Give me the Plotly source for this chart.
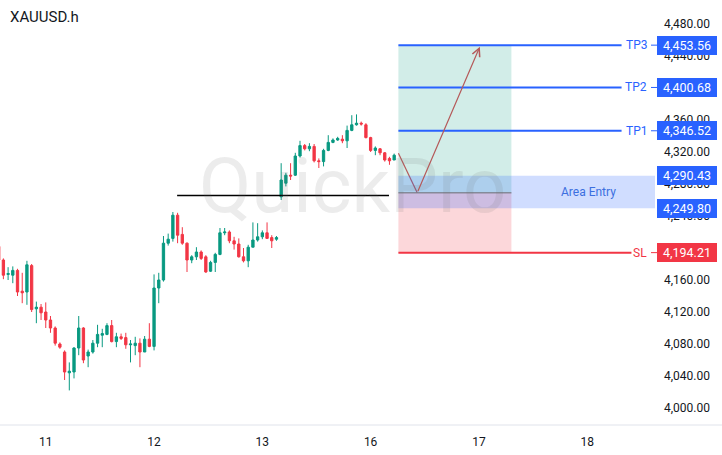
import plotly.graph_objects as go

# ---------------- data ----------------
title_text = "XAUUSD.h"
watermark_text = "QuickPro"

opens = [4202, 4185, 4167, 4166, 4172, 4146, 4145, 4178, 4124, 4126,
         4120, 4110, 4100, 4080, 4070, 4044, 4045, 4075, 4100, 4065,
         4070, 4081, 4091, 4092, 4103, 4083, 4089, 4088, 4079, 4078,
         4081, 4070, 4086, 4077, 4150, 4160, 4206, 4212, 4241, 4217,
         4206, 4185, 4189, 4195, 4189, 4171, 4182, 4192, 4219, 4220,
         4209, 4205, 4189, 4184, 4201, 4210, 4214, 4219, 4213, 4211,
         4264, 4281, 4291, 4291, 4315, 4328, 4324, 4327, 4309, 4308,
         4322, 4332, 4335, 4336, 4334, 4347, 4354, 4356, 4354, 4338,
         4322, 4324, 4319, 4312, 4310]
highs = [4206, 4187, 4176, 4177, 4174, 4169, 4184, 4180, 4133, 4130,
         4132, 4115, 4102, 4082, 4072, 4057, 4076, 4115, 4101, 4073,
         4085, 4104, 4099, 4106, 4110, 4094, 4093, 4094, 4085, 4089,
         4087, 4090, 4106, 4167, 4169, 4215, 4218, 4245, 4244, 4226,
         4207, 4191, 4201, 4197, 4191, 4184, 4194, 4225, 4225, 4222,
         4214, 4212, 4200, 4204, 4232, 4231, 4222, 4232, 4216, 4215,
         4306, 4294, 4306, 4319, 4334, 4330, 4331, 4330, 4312, 4324,
         4341, 4337, 4339, 4341, 4353, 4366, 4367, 4358, 4356, 4339,
         4327, 4325, 4320, 4314, 4318]
lows = [4183, 4161, 4160, 4156, 4140, 4131, 4129, 4120, 4106, 4110,
        4100, 4094, 4078, 4074, 4035, 4022, 4037, 4066, 4056, 4051,
        4068, 4076, 4076, 4091, 4082, 4076, 4085, 4074, 4057, 4066,
        4051, 4070, 4076, 4072, 4131, 4158, 4203, 4208, 4206, 4204,
        4170, 4181, 4185, 4185, 4169, 4170, 4170, 4191, 4216, 4206,
        4198, 4188, 4182, 4176, 4201, 4208, 4211, 4212, 4200, 4209,
        4260, 4277, 4285, 4290, 4313, 4322, 4321, 4307, 4300, 4302,
        4321, 4331, 4334, 4331, 4325, 4346, 4353, 4353, 4337, 4320,
        4316, 4316, 4308, 4304, 4310]
closes = [4185, 4166, 4168, 4172, 4145, 4144, 4179, 4123, 4126, 4119,
          4110, 4100, 4081, 4076, 4045, 4046, 4075, 4100, 4060, 4070,
          4081, 4092, 4093, 4103, 4083, 4089, 4087, 4079, 4080, 4081,
          4070, 4086, 4077, 4150, 4160, 4206, 4211, 4241, 4216, 4206,
          4185, 4189, 4195, 4187, 4170, 4182, 4192, 4219, 4220, 4209,
          4205, 4189, 4184, 4201, 4210, 4214, 4219, 4212, 4209, 4213,
          4285, 4291, 4290, 4315, 4328, 4324, 4327, 4309, 4308, 4322,
          4332, 4335, 4337, 4334, 4347, 4354, 4356, 4355, 4338, 4322,
          4325, 4319, 4310, 4309, 4316]

day_ticks = [10, 33, 56, 79, 102, 125]
day_labels = ["11", "12", "13", "16", "17", "18"]

tp_names = ["TP1", "TP2", "TP3"]
tp_levels = [4346.52, 4400.68, 4453.56]
entry_high = 4290.43
entry_low = 4249.80
entry_price = 4269.0
sl_level = 4194.21
support_level = 4265.6
support_span = [37.9, 82.9]

path_x = [84.9, 88.9, 102.2]
path_y = [4318.4, 4269.0, 4451.6]

# axis ticks (4,400 is fully covered by the TP2 label in the reference)
y_ticks = [4000 + 40 * k for k in range(13) if k != 10]

# ---------------- style ----------------
UP = "#089981"
DOWN = "#F23645"
BLUE = "#2962FF"
TXT = "#131722"
FONT = "Roboto"

W, H = 722, 455
ML, MR, MT, MB = 0, 67, 0, 30
PW = W - ML - MR
def px(xp):
    return xp / PW

zone_x0, zone_x1 = 84.9, 108.9
tp_x1 = 132.3
sl_x1 = 134.4
x_range = [0.28, 139.4]
y_range = [3978.75, 4510.0]

xs = list(range(len(opens)))

fig = go.Figure()
fig.add_trace(go.Candlestick(
    x=xs, open=opens, high=highs, low=lows, close=closes,
    increasing=dict(line=dict(color=UP, width=1), fillcolor=UP),
    decreasing=dict(line=dict(color=DOWN, width=1), fillcolor=DOWN),
    whiskerwidth=0, hoverinfo="skip", showlegend=False,
))

# arrow path (first leg)
fig.add_trace(go.Scatter(
    x=path_x[:2], y=path_y[:2], mode="lines",
    line=dict(color="#B55A5A", width=1.2), hoverinfo="skip", showlegend=False,
))

shapes = []
shapes.append(dict(type="rect", xref="x", yref="y", x0=zone_x0, x1=zone_x1,
                   y0=entry_price, y1=tp_levels[-1], line=dict(width=0),
                   fillcolor="rgba(8,153,129,0.18)", layer="below"))
shapes.append(dict(type="rect", xref="x", yref="y", x0=zone_x0, x1=zone_x1,
                   y0=sl_level, y1=entry_price, line=dict(width=0),
                   fillcolor="rgba(242,54,69,0.2)", layer="below"))
shapes.append(dict(type="rect", xref="x", yref="y", x0=zone_x0, x1=x_range[1] + 1,
                   y0=entry_low, y1=entry_high, line=dict(width=0),
                   fillcolor="rgba(41,98,255,0.22)", layer="above"))
shapes.append(dict(type="line", xref="x", yref="y", x0=zone_x0, x1=zone_x1,
                   y0=entry_price, y1=entry_price,
                   line=dict(color="rgba(120,123,134,0.8)", width=1.5)))
shapes.append(dict(type="line", xref="x", yref="y", x0=support_span[0], x1=support_span[1],
                   y0=support_level, y1=support_level, line=dict(color="#000000", width=1.3)))
for lv in tp_levels:
    shapes.append(dict(type="line", xref="x", yref="y", x0=zone_x0, x1=tp_x1,
                       y0=lv, y1=lv, line=dict(color=BLUE, width=2)))
    shapes.append(dict(type="line", xref="paper", yref="y", x0=px(651), x1=px(657),
                       y0=lv, y1=lv, line=dict(color=BLUE, width=1)))
shapes.append(dict(type="line", xref="x", yref="y", x0=zone_x0, x1=sl_x1,
                   y0=sl_level, y1=sl_level, line=dict(color=DOWN, width=2)))
shapes.append(dict(type="line", xref="paper", yref="y", x0=px(651), x1=px(657),
                   y0=sl_level, y1=sl_level, line=dict(color=DOWN, width=1)))
shapes.append(dict(type="line", xref="paper", yref="paper", x0=0, x1=W / PW,
                   y0=0, y1=0, line=dict(color="#E0E3EB", width=1)))

ann = []
ann.append(dict(text=title_text, xref="paper", yref="paper", x=px(8), y=1 - 17 / (H - MB),
                xanchor="left", yanchor="middle", showarrow=False,
                font=dict(family=FONT, size=15, color=TXT)))
ann.append(dict(text=watermark_text, xref="paper", yref="paper", x=px(352), y=1 - 186 / (H - MB),
                xanchor="center", yanchor="middle", showarrow=False,
                font=dict(family=FONT, size=76, color="rgba(110,110,110,0.13)")))
ann.append(dict(x=path_x[2], y=path_y[2], ax=path_x[1], ay=path_y[1],
                xref="x", yref="y", axref="x", ayref="y", text="", showarrow=True,
                arrowhead=5, arrowsize=1.3, arrowwidth=1.2, arrowcolor="#B55A5A", standoff=0))
ann.append(dict(text="Area Entry", xref="paper", yref="y", x=px(588), xanchor="center",
                y=(entry_high + entry_low) / 2, yanchor="middle", showarrow=False,
                font=dict(family=FONT, size=12, color="#3B6FE0")))
for name, lv in zip(tp_names, tp_levels):
    ann.append(dict(text=name, xref="paper", yref="y", x=px(649), y=lv, xanchor="right",
                    yanchor="middle", showarrow=False,
                    font=dict(family=FONT, size=12, color=BLUE)))
ann.append(dict(text="SL", xref="paper", yref="y", x=px(649), y=sl_level, xanchor="right",
                yanchor="middle", showarrow=False, font=dict(family=FONT, size=12, color=DOWN)))

label_levels = tp_levels + [entry_high, entry_low, sl_level]
label_colors = [BLUE, BLUE, BLUE, BLUE, BLUE, DOWN]
for lv, col in zip(label_levels, label_colors):
    ann.append(dict(text=f"{lv:,.2f}", xref="paper", yref="y", x=px(657), y=lv,
                    xanchor="left", yanchor="middle", showarrow=False,
                    width=56, height=15, borderpad=1, bgcolor=col, bordercolor=col,
                    font=dict(family=FONT, size=12.5, color="#FFFFFF")))

fig.update_layout(
    width=W, height=H, margin=dict(l=ML, r=MR, t=MT, b=MB),
    paper_bgcolor="#FFFFFF", plot_bgcolor="#FFFFFF",
    shapes=shapes, annotations=ann, showlegend=False, hovermode=False,
    font=dict(family=FONT, color=TXT),
    xaxis=dict(range=x_range, rangeslider=dict(visible=False), showgrid=False,
               zeroline=False, showline=False, tickmode="array", tickvals=day_ticks,
               ticktext=day_labels, ticks="", ticklabelstandoff=8,
               tickfont=dict(family=FONT, size=12, color=TXT)),
    yaxis=dict(range=y_range, side="right", showgrid=False, zeroline=False,
               showline=False, tickmode="array", tickvals=y_ticks,
               ticktext=[f"{v:,.2f}" for v in y_ticks], ticks="", ticklabelstandoff=8,
               tickfont=dict(family=FONT, size=12, color=TXT)),
)

fig.write_html("out.html")
